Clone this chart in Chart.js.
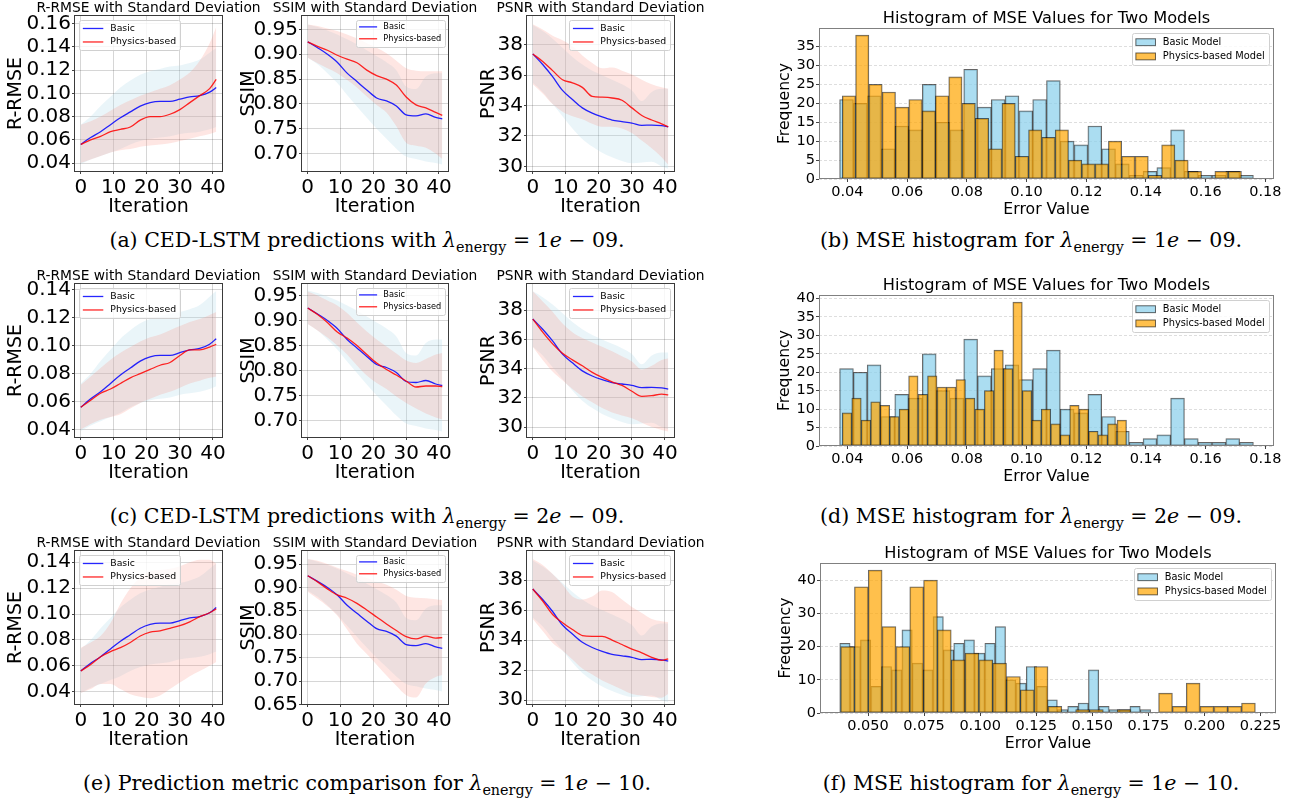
<!DOCTYPE html>
<html>
<head>
<meta charset="utf-8">
<script src="https://cdn.jsdelivr.net/npm/chart.js@4.4.1/dist/chart.umd.min.js"></script>
<style>
  html, body { margin: 0; padding: 0; background: #fff; }
  body { width: 1305px; height: 800px; position: relative; overflow: hidden; }
  canvas { position: absolute; }
  .caption {
    position: absolute;
    transform: translateX(-50%);
    white-space: nowrap;
    font-family: "DejaVu Serif", serif;
    font-size: 20.5px;
    line-height: 24px;
    color: #000;
  }
  .caption sub { font-size: 70%; }
</style>
</head>
<body>

<div class="caption" style="left:367px; top:228px">(a) CED-LSTM predictions with <i>λ</i><sub>energy</sub> = 1<i>e</i> − 09.</div>
<div class="caption" style="left:1031px; top:228px">(b) MSE histogram for <i>λ</i><sub>energy</sub> = 1<i>e</i> − 09.</div>
<div class="caption" style="left:367px; top:504px">(c) CED-LSTM predictions with <i>λ</i><sub>energy</sub> = 2<i>e</i> − 09.</div>
<div class="caption" style="left:1031px; top:504px">(d) MSE histogram for <i>λ</i><sub>energy</sub> = 2<i>e</i> − 09.</div>
<div class="caption" style="left:367px; top:771px">(e) Prediction metric comparison for <i>λ</i><sub>energy</sub> = 1<i>e</i> − 10.</div>
<div class="caption" style="left:1031px; top:771px">(f) MSE histogram for <i>λ</i><sub>energy</sub> = 1<i>e</i> − 10.</div>

<script>
// ---- iteration curves -------------------------------------------------
const ITERATIONS = [0, 3, 6, 9, 12, 15, 18, 21, 24, 27, 30, 33, 36, 39, 41];
const ITER_TICKS = [0, 10, 20, 30, 40];

// basic model (same run in every row)
const rmseBasic   = [0.056, 0.062, 0.067, 0.073, 0.079, 0.084, 0.089, 0.092, 0.093, 0.093, 0.095, 0.097, 0.098, 0.101, 0.105];
const rmseBasicHi = [0.073, 0.080, 0.089, 0.097, 0.105, 0.111, 0.116, 0.119, 0.121, 0.123, 0.124, 0.126, 0.129, 0.135, 0.139];
const rmseBasicLo = [0.039, 0.043, 0.046, 0.049, 0.052, 0.056, 0.059, 0.061, 0.062, 0.063, 0.065, 0.066, 0.067, 0.069, 0.071];
const ssimBasic   = [0.925, 0.913, 0.900, 0.884, 0.862, 0.845, 0.828, 0.812, 0.806, 0.796, 0.778, 0.776, 0.780, 0.773, 0.770];
const ssimBasicHi = [0.960, 0.955, 0.948, 0.940, 0.930, 0.920, 0.908, 0.896, 0.884, 0.868, 0.835, 0.830, 0.855, 0.862, 0.862];
const ssimBasicLo = [0.893, 0.880, 0.862, 0.842, 0.818, 0.795, 0.772, 0.750, 0.730, 0.710, 0.694, 0.689, 0.684, 0.681, 0.678];
const psnrBasic   = [37.4, 36.7, 35.9, 35.0, 34.4, 33.85, 33.5, 33.25, 33.05, 32.95, 32.85, 32.7, 32.72, 32.68, 32.6];
const psnrBasicHi = [39.3, 38.9, 38.4, 37.8, 37.2, 36.7, 36.3, 36.0, 35.7, 35.4, 35.0, 34.3, 34.9, 35.1, 35.1];
const psnrBasicLo = [35.5, 34.9, 34.1, 33.3, 32.5, 31.8, 31.3, 30.9, 30.6, 30.35, 30.2, 30.25, 30.3, 30.0, 29.85];

// physics-based, lambda = 1e-09
const rmsePhysA   = [0.056, 0.060, 0.063, 0.067, 0.069, 0.071, 0.077, 0.080, 0.080, 0.082, 0.086, 0.092, 0.098, 0.104, 0.112];
const rmsePhysAHi = [0.073, 0.076, 0.080, 0.085, 0.090, 0.094, 0.098, 0.101, 0.104, 0.107, 0.112, 0.118, 0.128, 0.143, 0.157];
const rmsePhysALo = [0.040, 0.043, 0.046, 0.049, 0.051, 0.052, 0.054, 0.055, 0.056, 0.057, 0.059, 0.061, 0.063, 0.065, 0.067];
const ssimPhysA   = [0.925, 0.916, 0.908, 0.898, 0.890, 0.883, 0.868, 0.857, 0.850, 0.838, 0.814, 0.798, 0.792, 0.783, 0.777];
const ssimPhysAHi = [0.960, 0.957, 0.952, 0.947, 0.940, 0.932, 0.922, 0.913, 0.902, 0.887, 0.872, 0.867, 0.866, 0.866, 0.866];
const ssimPhysALo = [0.893, 0.882, 0.872, 0.862, 0.848, 0.833, 0.815, 0.798, 0.783, 0.755, 0.722, 0.716, 0.712, 0.700, 0.689];
const psnrPhysA   = [37.4, 36.9, 36.3, 35.7, 35.5, 35.2, 34.6, 34.55, 34.5, 34.35, 33.85, 33.35, 33.05, 32.8, 32.6];
const psnrPhysAHi = [39.35, 39.0, 38.6, 38.3, 37.9, 37.3, 36.8, 36.45, 36.5, 36.3, 36.05, 35.7, 35.4, 35.2, 35.1];
const psnrPhysALo = [35.4, 34.8, 34.1, 33.6, 33.3, 33.1, 32.8, 32.6, 32.6, 32.5, 32.2, 31.7, 31.2, 30.6, 30.1];

// physics-based, lambda = 2e-09
const rmsePhysB   = [0.056, 0.061, 0.066, 0.069, 0.073, 0.077, 0.080, 0.083, 0.086, 0.088, 0.093, 0.097, 0.097, 0.099, 0.101];
const rmsePhysBHi = [0.072, 0.078, 0.084, 0.090, 0.095, 0.099, 0.103, 0.106, 0.108, 0.111, 0.114, 0.117, 0.119, 0.122, 0.124];
const rmsePhysBLo = [0.040, 0.044, 0.047, 0.049, 0.051, 0.055, 0.059, 0.062, 0.065, 0.067, 0.070, 0.073, 0.075, 0.077, 0.078];
const ssimPhysB   = [0.925, 0.912, 0.896, 0.877, 0.865, 0.850, 0.832, 0.815, 0.802, 0.791, 0.779, 0.767, 0.769, 0.769, 0.768];
const ssimPhysBHi = [0.958, 0.950, 0.940, 0.930, 0.915, 0.896, 0.878, 0.862, 0.848, 0.834, 0.820, 0.815, 0.823, 0.832, 0.835];
const ssimPhysBLo = [0.893, 0.880, 0.866, 0.850, 0.832, 0.810, 0.790, 0.775, 0.763, 0.748, 0.735, 0.724, 0.714, 0.706, 0.702];
const psnrPhysB   = [37.4, 36.5, 35.7, 35.05, 34.6, 34.2, 33.75, 33.4, 33.1, 32.85, 32.45, 32.1, 32.15, 32.25, 32.2];
const psnrPhysBHi = [39.3, 38.6, 37.9, 37.1, 36.5, 36.1, 35.8, 35.5, 35.2, 34.85, 34.5, 33.95, 34.2, 34.6, 34.7];
const psnrPhysBLo = [35.5, 34.6, 33.8, 33.2, 32.6, 32.1, 31.7, 31.3, 31.0, 30.8, 30.6, 30.3, 30.0, 29.8, 29.7];

// physics-based, lambda = 1e-10
const rmsePhysC   = [0.056, 0.061, 0.067, 0.071, 0.074, 0.078, 0.083, 0.086, 0.087, 0.089, 0.091, 0.094, 0.098, 0.101, 0.104];
const rmsePhysCHi = [0.074, 0.078, 0.083, 0.093, 0.108, 0.120, 0.128, 0.133, 0.134, 0.135, 0.137, 0.140, 0.142, 0.142, 0.139];
const rmsePhysCLo = [0.039, 0.042, 0.046, 0.046, 0.042, 0.038, 0.036, 0.035, 0.037, 0.042, 0.047, 0.052, 0.056, 0.060, 0.063];
const ssimPhysC   = [0.925, 0.912, 0.897, 0.884, 0.877, 0.866, 0.852, 0.837, 0.822, 0.808, 0.795, 0.790, 0.796, 0.792, 0.793];
const ssimPhysCHi = [0.961, 0.957, 0.950, 0.942, 0.935, 0.927, 0.920, 0.912, 0.906, 0.895, 0.882, 0.878, 0.877, 0.875, 0.873];
const ssimPhysCLo = [0.891, 0.876, 0.860, 0.840, 0.810, 0.780, 0.758, 0.735, 0.712, 0.690, 0.670, 0.665, 0.695, 0.709, 0.713];
const psnrPhysC   = [37.4, 36.6, 35.7, 35.15, 34.7, 34.3, 34.25, 34.25, 34.0, 33.7, 33.4, 33.15, 32.85, 32.65, 32.75];
const psnrPhysCHi = [39.4, 39.0, 38.4, 37.7, 36.9, 36.7, 36.9, 37.3, 37.2, 36.7, 36.2, 35.8, 35.4, 35.25, 35.2];
const psnrPhysCLo = [35.4, 34.6, 33.8, 33.3, 32.7, 32.1, 31.7, 31.3, 31.0, 30.7, 30.4, 30.3, 30.2, 30.15, 30.4];

const rmseTicksA = [0.04, 0.06, 0.08, 0.10, 0.12, 0.14, 0.16];
const rmseTicksBC = [0.04, 0.06, 0.08, 0.10, 0.12, 0.14];
const ssimTicksAB = [0.70, 0.75, 0.80, 0.85, 0.90, 0.95];
const ssimTicksC = [0.65, 0.70, 0.75, 0.80, 0.85, 0.90, 0.95];
const psnrTicks = [30, 32, 34, 36, 38];

// ---- MSE histograms (30 equal bins per model) -------------------------
const basicCounts = [21, 20, 22, 8, 14, 13, 25, 15, 13, 29, 19, 21, 22, 18, 21, 26, 10, 9, 14, 8, 4, 1, 2, 3, 13, 2, 1, 1, 2, 1];
const basicRange = [0.0374, 0.176];
const physCountsA = [22, 38, 25, 23, 19, 21, 18, 22, 27, 20, 16, 8, 20, 6, 13, 11, 13, 5, 4, 4, 10, 6, 6, 1, 9, 5, 2, 0, 2, 2];
const physRangeA = [0.0383, 0.172];
const physCountsB = [9, 13, 7, 12, 11, 8, 10, 19, 14, 19, 16, 16, 18, 13, 10, 15, 26, 21, 39, 15, 7, 10, 6, 3, 11, 10, 4, 3, 6, 7];
const physRangeB = [0.0383, 0.1335];
const physCountsC = [20, 38, 43, 26, 20, 38, 40, 25, 16, 18, 16, 15, 11, 7, 14, 2, 0, 1, 1, 0, 1, 0, 0, 6, 2, 9, 2, 2, 2, 3];
const physRangeC = [0.0378, 0.2227];

const errTicksAB = [0.04, 0.06, 0.08, 0.10, 0.12, 0.14, 0.16, 0.18];
const errTicksC = [0.050, 0.075, 0.100, 0.125, 0.150, 0.175, 0.200, 0.225];
const freqTicksA = [0, 5, 10, 15, 20, 25, 30, 35];
const freqTicksB = [0, 5, 10, 15, 20, 25, 30, 35, 40];
const freqTicksC = [0, 10, 20, 30, 40];

// ---- styling ----------------------------------------------------------
const FONT = '"DejaVu Sans", sans-serif';
const BLUE = 'rgba(0, 0, 255, 0.85)';
const RED = 'rgba(255, 0, 0, 0.85)';
const BLUE_BAND = 'rgba(173, 216, 230, 0.25)';
const RED_BAND = 'rgba(250, 128, 114, 0.2)';
const SKY = 'rgba(135, 206, 235, 0.7)';
const ORANGE = 'rgba(255, 165, 0, 0.7)';
const EDGE = 'rgba(0, 0, 0, 0.6)';

// axes box on all four sides
const framePlugin = {
  id: 'frame',
  afterDatasetsDraw(chart, args, opts) {
    const { ctx, chartArea: a } = chart;
    ctx.save();
    ctx.strokeStyle = opts.color || '#444';
    ctx.lineWidth = 1;
    const l = Math.round(a.left) + 0.5, t = Math.round(a.top) + 0.5;
    const r = Math.round(a.right) - 0.5, b = Math.round(a.bottom) - 0.5;
    ctx.strokeRect(l, t, r - l, b - t);
    ctx.restore();
  },
};

// legend box drawn inside the plot area
const insideLegendPlugin = {
  id: 'insideLegend',
  afterDraw(chart, args, opts) {
    if (!opts.items) return;
    const { ctx, chartArea: a } = chart;
    const f = opts.fontSize;
    ctx.save();
    ctx.font = `${f}px ${FONT}`;
    const textW = Math.max(...opts.items.map((it) => ctx.measureText(it.text).width));
    const pad = 0.4 * f, handle = opts.handle * f, gap = 0.75 * f, rowH = f, spacing = 0.45 * f;
    const w = pad * 2 + handle + gap + textW;
    const h = pad * 2 + rowH * opts.items.length + spacing * (opts.items.length - 1);
    const margin = 0.55 * f;
    const x = opts.corner === 'left' ? a.left + margin : a.right - margin - w;
    const y = a.top + margin;

    ctx.beginPath();
    ctx.roundRect(Math.round(x) + 0.5, Math.round(y) + 0.5, Math.round(w), Math.round(h), 2);
    ctx.fillStyle = 'rgba(255, 255, 255, 0.8)';
    ctx.fill();
    ctx.strokeStyle = '#d0d0d0';
    ctx.lineWidth = 1;
    ctx.stroke();

    opts.items.forEach((it, i) => {
      const cy = y + pad + rowH / 2 + i * (rowH + spacing);
      if (it.kind === 'line') {
        ctx.strokeStyle = it.color;
        ctx.lineWidth = 1.3;
        ctx.beginPath();
        ctx.moveTo(x + pad, cy);
        ctx.lineTo(x + pad + handle, cy);
        ctx.stroke();
      } else {
        ctx.fillStyle = it.color;
        ctx.fillRect(x + pad, cy - 0.35 * f, handle, 0.7 * f);
        ctx.strokeStyle = EDGE;
        ctx.lineWidth = 1;
        ctx.strokeRect(x + pad, cy - 0.35 * f, handle, 0.7 * f);
      }
      ctx.fillStyle = '#000';
      ctx.textAlign = 'left';
      ctx.textBaseline = 'middle';
      ctx.fillText(it.text, x + pad + handle + gap, cy);
    });
    ctx.restore();
  },
};

function placeCanvas(left, top, width, height) {
  const c = document.createElement('canvas');
  c.width = width;
  c.height = height;
  c.style.left = left + 'px';
  c.style.top = top + 'px';
  c.style.width = width + 'px';
  c.style.height = height + 'px';
  document.body.appendChild(c);
  return c;
}

const fixedTicks = (values) => (scale) => {
  scale.ticks = values.map((value) => ({ value }));
};

// empty right-hand axis, so the title centres over the plot
const spacerAxis = (width) => ({
  type: 'linear',
  position: 'right',
  display: true,
  afterFit: (s) => { s.width = width; },
  ticks: { display: false },
  grid: { display: false },
  border: { display: false },
  title: { display: false },
});

function lineChart(rect, cfg) {
  const W = 72, H = 48, TOP = 20, TITLE = 13.8;
  const [l, t, r, b] = rect;
  const canvas = placeCanvas(l - W, t - TOP, (r - l) + 2 * W, TOP + (b - t) + H);
  const pts = (arr) => ITERATIONS.map((x, i) => ({ x, y: arr[i] }));
  const curve = { pointRadius: 0, cubicInterpolationMode: 'monotone', fill: false };

  new Chart(canvas, {
    type: 'line',
    data: {
      datasets: [
        { ...curve, label: 'Physics-based', data: pts(cfg.phys), borderColor: RED, borderWidth: 1.3 },
        { ...curve, label: 'Basic', data: pts(cfg.basic), borderColor: BLUE, borderWidth: 1.3 },
        { ...curve, data: pts(cfg.physHi), borderWidth: 0, borderColor: 'transparent', fill: '+1', backgroundColor: RED_BAND },
        { ...curve, data: pts(cfg.physLo), borderWidth: 0, borderColor: 'transparent' },
        { ...curve, data: pts(cfg.basicHi), borderWidth: 0, borderColor: 'transparent', fill: '+1', backgroundColor: BLUE_BAND },
        { ...curve, data: pts(cfg.basicLo), borderWidth: 0, borderColor: 'transparent' },
      ],
    },
    options: {
      responsive: false,
      animation: false,
      devicePixelRatio: 1,
      layout: { padding: { left: 0, right: 0, top: TOP - TITLE, bottom: 0 } },
      plugins: {
        legend: { display: false },
        tooltip: { enabled: false },
        title: {
          display: true,
          text: cfg.title,
          color: '#000',
          font: { family: FONT, size: TITLE, weight: 'normal', lineHeight: 1 },
          padding: 0,
        },
        frame: { color: '#3a3a3a' },
        insideLegend: {
          corner: cfg.legendCorner,
          fontSize: cfg.legendSize,
          handle: 2.2,
          items: [
            { text: 'Basic', color: BLUE, kind: 'line' },
            { text: 'Physics-based', color: RED, kind: 'line' },
          ],
        },
      },
      scales: {
        x: {
          type: 'linear',
          min: -2.05,
          max: 43.05,
          bounds: 'data',
          afterBuildTicks: fixedTicks(ITER_TICKS),
          afterFit: (s) => { s.height = H; },
          border: { display: false },
          grid: { color: 'rgba(0, 0, 0, 0.16)', lineWidth: 1, tickLength: 2, tickColor: '#444' },
          ticks: { color: '#000', font: { family: FONT, size: 20 }, padding: 2, maxRotation: 0, autoSkip: false },
          title: {
            display: true,
            text: 'Iteration',
            color: '#000',
            font: { family: FONT, size: 19, lineHeight: 1 },
            padding: { top: 0, bottom: 3 },
          },
        },
        y: {
          type: 'linear',
          min: cfg.yMin,
          max: cfg.yMax,
          bounds: 'data',
          afterBuildTicks: fixedTicks(cfg.yTicks),
          afterFit: (s) => { s.width = W; },
          border: { display: false },
          grid: { color: 'rgba(0, 0, 0, 0.16)', lineWidth: 1, tickLength: 2, tickColor: '#444' },
          ticks: {
            color: '#000',
            font: { family: FONT, size: 20 },
            padding: 1,
            autoSkip: false,
            callback: (v) => v.toFixed(cfg.decimals),
          },
          title: {
            display: true,
            text: cfg.yLabel,
            color: '#000',
            font: { family: FONT, size: 19, lineHeight: 1 },
            padding: { top: W - cfg.yLabelGap - 9.5, bottom: 0 },
          },
        },
        yRight: spacerAxis(W),
      },
    },
    plugins: [framePlugin, insideLegendPlugin],
  });
}

function histChart(rect, cfg) {
  const W = 55, H = 42, TOP = 20, TITLE = 16.2;
  const [l, t, r, b] = rect;
  const canvas = placeCanvas(l - W, t - TOP, (r - l) + 2 * W, TOP + (b - t) + H);
  const bars = (counts, [lo, hi]) => {
    const w = (hi - lo) / counts.length;
    return counts.map((y, i) => ({ x: lo + (i + 0.5) * w, y }));
  };
  const thickness = (counts, [lo, hi]) => (ctx) => {
    const s = ctx.chart.scales.x;
    return Math.abs(s.getPixelForValue(lo + (hi - lo) / counts.length) - s.getPixelForValue(lo));
  };
  const barStyle = { borderColor: EDGE, borderWidth: 1, borderSkipped: false, grouped: false };

  new Chart(canvas, {
    type: 'bar',
    data: {
      datasets: [
        {
          ...barStyle,
          label: 'Physics-based Model',
          data: bars(cfg.phys, cfg.physRange),
          backgroundColor: ORANGE,
          barThickness: thickness(cfg.phys, cfg.physRange),
          order: 1,
        },
        {
          ...barStyle,
          label: 'Basic Model',
          data: bars(basicCounts, basicRange),
          backgroundColor: SKY,
          barThickness: thickness(basicCounts, basicRange),
          order: 2,
        },
      ],
    },
    options: {
      responsive: false,
      animation: false,
      devicePixelRatio: 1,
      layout: { padding: { left: 0, right: 0, top: TOP - TITLE - 0.85, bottom: 0 } },
      plugins: {
        legend: { display: false },
        tooltip: { enabled: false },
        title: {
          display: true,
          text: 'Histogram of MSE Values for Two Models',
          color: '#000',
          font: { family: FONT, size: TITLE, weight: 'normal', lineHeight: 1 },
          padding: { top: 0, bottom: 0.85 },
        },
        frame: { color: '#808080' },
        insideLegend: {
          corner: 'right',
          fontSize: 9.8,
          handle: 2,
          items: [
            { text: 'Basic Model', color: SKY, kind: 'patch' },
            { text: 'Physics-based Model', color: ORANGE, kind: 'patch' },
          ],
        },
      },
      scales: {
        x: {
          type: 'linear',
          offset: false,
          min: cfg.xMin,
          max: cfg.xMax,
          bounds: 'data',
          afterBuildTicks: fixedTicks(cfg.xTicks),
          afterFit: (s) => { s.height = H; },
          border: { display: false },
          grid: { drawOnChartArea: false, offset: false, tickLength: 3, tickColor: '#444' },
          ticks: {
            color: '#000',
            font: { family: FONT, size: 14.5 },
            padding: 2,
            maxRotation: 0,
            autoSkip: false,
            callback: (v) => v.toFixed(cfg.xDecimals),
          },
          title: {
            display: true,
            text: 'Error Value',
            color: '#000',
            font: { family: FONT, size: 15.7, lineHeight: 1 },
            padding: { top: 0, bottom: H - 30.5 - 7.85 },
          },
        },
        y: {
          min: 0,
          max: cfg.yMax,
          bounds: 'data',
          afterBuildTicks: fixedTicks(cfg.yTicks),
          afterFit: (s) => { s.width = W; },
          border: { display: false, dash: [3, 2] },
          grid: { color: 'rgba(0, 0, 0, 0.13)', lineWidth: 1, tickLength: 3, tickColor: '#444', tickBorderDash: [] },
          ticks: { color: '#000', font: { family: FONT, size: 14.5 }, padding: 1, autoSkip: false },
          title: {
            display: true,
            text: 'Frequency',
            color: '#000',
            font: { family: FONT, size: 15.7, lineHeight: 1 },
            padding: { top: W - 34 - 7.85, bottom: 0 },
          },
        },
        yRight: spacerAxis(W),
      },
    },
    plugins: [framePlugin, insideLegendPlugin],
  });
}

// ---- figure grid --------------------------------------------------------
const COLS = [[74, 223], [301, 449], [526, 675]];
const ROWS = [[15, 172], [283, 438], [550, 705]];

const rmseSpec = { title: 'R-RMSE with Standard Deviation', yLabel: 'R-RMSE', yLabelGap: 57.5, decimals: 2, legendCorner: 'left', legendSize: 9.3,
  basic: rmseBasic, basicHi: rmseBasicHi, basicLo: rmseBasicLo };
const ssimSpec = { title: 'SSIM with Standard Deviation', yLabel: 'SSIM', yLabelGap: 52, decimals: 2, legendCorner: 'right', legendSize: 8.2,
  basic: ssimBasic, basicHi: ssimBasicHi, basicLo: ssimBasicLo };
const psnrSpec = { title: 'PSNR with Standard Deviation', yLabel: 'PSNR', yLabelGap: 37, decimals: 0, legendCorner: 'right', legendSize: 9.3,
  basic: psnrBasic, basicHi: psnrBasicHi, basicLo: psnrBasicLo };

const rowCharts = [
  [
    { ...rmseSpec, phys: rmsePhysA, physHi: rmsePhysAHi, physLo: rmsePhysALo, yMin: 0.0323, yMax: 0.1674, yTicks: rmseTicksA },
    { ...ssimSpec, phys: ssimPhysA, physHi: ssimPhysAHi, physLo: ssimPhysALo, yMin: 0.663, yMax: 0.979, yTicks: ssimTicksAB },
    { ...psnrSpec, phys: psnrPhysA, physHi: psnrPhysAHi, physLo: psnrPhysALo, yMin: 29.63, yMax: 39.96, yTicks: psnrTicks },
  ],
  [
    { ...rmseSpec, phys: rmsePhysB, physHi: rmsePhysBHi, physLo: rmsePhysBLo, yMin: 0.034, yMax: 0.1448, yTicks: rmseTicksBC },
    { ...ssimSpec, phys: ssimPhysB, physHi: ssimPhysBHi, physLo: ssimPhysBLo, yMin: 0.665, yMax: 0.975, yTicks: ssimTicksAB },
    { ...psnrSpec, phys: psnrPhysB, physHi: psnrPhysBHi, physLo: psnrPhysBLo, yMin: 29.25, yMax: 39.87, yTicks: psnrTicks },
  ],
  [
    { ...rmseSpec, phys: rmsePhysC, physHi: rmsePhysCHi, physLo: rmsePhysCLo, yMin: 0.0297, yMax: 0.1495, yTicks: rmseTicksBC },
    { ...ssimSpec, phys: ssimPhysC, physHi: ssimPhysCHi, physLo: ssimPhysCLo, yMin: 0.649, yMax: 0.980, yTicks: ssimTicksC },
    { ...psnrSpec, phys: psnrPhysC, physHi: psnrPhysCHi, physLo: psnrPhysCLo, yMin: 29.67, yMax: 40.0, yTicks: psnrTicks },
  ],
];

rowCharts.forEach((row, ri) => {
  row.forEach((cfg, ci) => {
    lineChart([COLS[ci][0], ROWS[ri][0], COLS[ci][1], ROWS[ri][1]], cfg);
  });
});

histChart([819, 28, 1274, 179], {
  phys: physCountsA, physRange: physRangeA, xMin: 0.0305, xMax: 0.1829, xTicks: errTicksAB, xDecimals: 2, yMax: 39.9, yTicks: freqTicksA,
});
histChart([819, 295, 1274, 446], {
  phys: physCountsB, physRange: physRangeB, xMin: 0.0305, xMax: 0.1829, xTicks: errTicksAB, xDecimals: 2, yMax: 40.95, yTicks: freqTicksB,
});
histChart([820, 563, 1276, 713], {
  phys: physCountsC, physRange: physRangeC, xMin: 0.0286, xMax: 0.2319, xTicks: errTicksC, xDecimals: 3, yMax: 45.15, yTicks: freqTicksC,
});
</script>
</body>
</html>
